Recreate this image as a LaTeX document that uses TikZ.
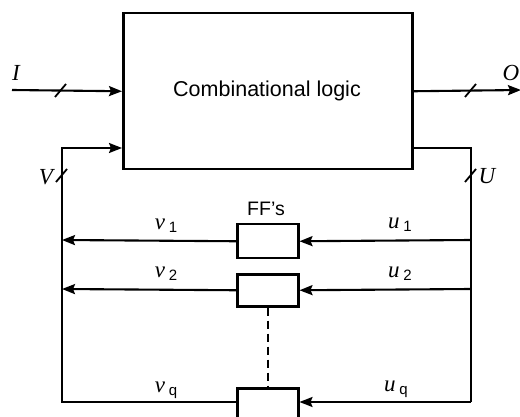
\documentclass[tikz,border=0pt]{standalone}
\usepackage{fontspec}
\setmainfont{Liberation Sans}
\newfontfamily\tms{Liberation Serif}
\usetikzlibrary{arrows.meta}
\newcommand{\lbl}[2]{{\tms\itshape #1}\,\raisebox{-3pt}{\fontsize{15}{16}\selectfont #2}}
\begin{document}
\begin{tikzpicture}[x=1pt,y=-1pt,
  box/.style={draw,line width=2.5pt,inner sep=0pt,anchor=north west},
  wire/.style={line width=2.1pt,line join=miter},
  arr/.style={wire,-{Stealth[length=13pt,width=10pt,inset=2pt]}},
  slashmark/.style={line width=1.8pt},
  mlabel/.style={font=\fontsize{23}{25}\selectfont\tms\itshape,inner sep=0pt},
  slabel/.style={font=\fontsize{23}{25}\selectfont,inner sep=0pt}]
\useasboundingbox (0,0) rectangle (520,417);
\clip (0,0) rectangle (520,417);
% main box
\node[box,minimum width=289pt,minimum height=156pt] (cl) at (122,12) {};
\node[font=\fontsize{21.5}{24}\selectfont] (cltext) at (267,91) {Combinational logic};
% flip-flops
\node[box,minimum width=61pt,minimum height=34pt] (ff1) at (236,223) {};
\node[box,minimum width=61pt,minimum height=32pt] (ff2) at (236,273) {};
\node[box,minimum width=61pt,minimum height=32pt] (ff3) at (236,387) {};
\node[font=\fontsize{19.5}{21}\selectfont,inner sep=0pt] (ffl) at (266,209) {FF{\char"0027}s};
% coordinates
\coordinate (Iin) at (12,90);
\coordinate (Oout) at (521,90);
\coordinate (vL) at (62,402);
\coordinate (vT) at (62,148);
\coordinate (uT) at (471,148);
\coordinate (uB) at (471,402);
\coordinate (u1s) at (471,240);
\coordinate (u2s) at (471,289);
\coordinate (v1e) at (62,240);
\coordinate (v2e) at (62,289);
% I / O
\draw[arr] (Iin) -- (cl.west);
\draw[arr] (cl.east) -- (Oout);
% feedback V
\draw[arr] (ff3.west |- vL) -- (vL) -- (vT) -- (vT -| cl.west);
% feedback U
\draw[wire] (uT -| cl.east) -- (uT) -- (uB);
\draw[arr] (uB) -- (uB -| ff3.east);
\draw[arr] (u1s) -- (ff1.east);
\draw[arr] (u2s) -- (ff2.east);
\draw[arr] (ff1.west) -- (v1e);
\draw[arr] (ff2.west) -- (v2e);
\draw[wire,dash pattern=on 8pt off 5pt] (ff2.south) -- (ff3.north);
% bus slashes
\draw[slashmark] (55,97) -- (66,84);
\draw[slashmark] (465,97) -- (476,84);
\draw[slashmark] (56,182) -- (67,169);
\draw[slashmark] (465,182) -- (476,169);
% labels
\node[mlabel] (lI) at (16,73) {I};
\node[mlabel] (lO) at (511,73) {O};
\node[mlabel] (lV) at (46,177) {V};
\node[mlabel] (lU) at (487,176) {U};
\node[slabel] (lv1) at (166,226) {\lbl{v}{1}};
\node[slabel] (lv2) at (166,274) {\lbl{v}{2}};
\node[slabel] (lvq) at (166,390) {\lbl{v}{q}};
\node[slabel] (lu1) at (400,225) {\lbl{u}{1}};
\node[slabel] (lu2) at (400,274) {\lbl{u}{2}};
\node[slabel] (luq) at (396,389) {\lbl{u}{q}};
\end{tikzpicture}
\end{document}
